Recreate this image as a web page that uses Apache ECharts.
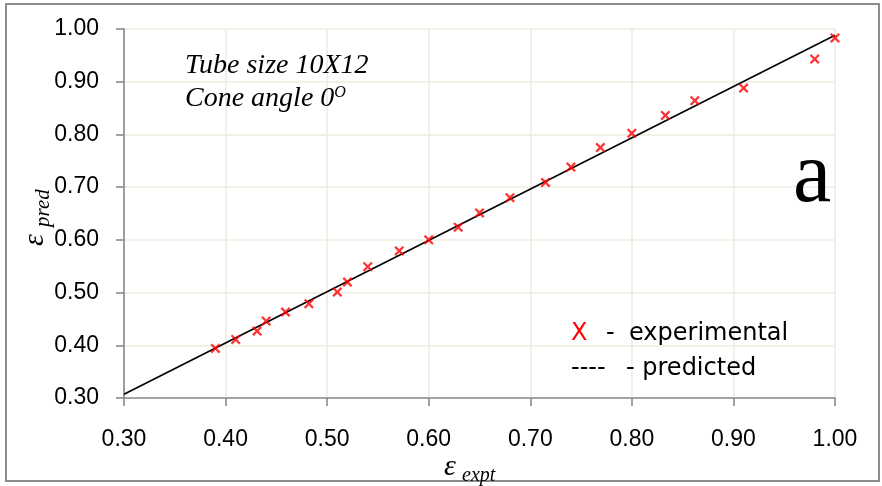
<!DOCTYPE html>
<html>
<head>
<meta charset="utf-8">
<script src="https://cdn.jsdelivr.net/npm/echarts@6/dist/echarts.min.js"></script>
<style>
  html, body { margin: 0; padding: 0; background: #fff; }
  #chart { width: 882px; height: 486px; }
</style>
</head>
<body>
<div id="chart"></div>
<script>
// Experimental voidage vs predicted voidage
const exptValues = [0.390, 0.410, 0.431, 0.440, 0.459, 0.482, 0.510, 0.520, 0.540, 0.571, 0.600, 0.629,
                    0.650, 0.680, 0.715, 0.740, 0.769, 0.800, 0.833, 0.862, 0.910, 0.980, 1.000];
const predValues = [0.394, 0.411, 0.427, 0.446, 0.463, 0.479, 0.501, 0.520, 0.549, 0.579, 0.600, 0.624,
                    0.651, 0.680, 0.709, 0.738, 0.775, 0.802, 0.836, 0.864, 0.888, 0.943, 0.983];
// Prediction line end points
const lineX = [0.30, 1.00];
const lineY = [0.307, 0.988];
// Axis ticks
const axisMin = 0.3, axisMax = 1.0, axisStep = 0.1;

const crossPath = 'path://M0,1.6L1.6,0L5,3.4L8.4,0L10,1.6L6.6,5L10,8.4L8.4,10L5,6.6L1.6,10L0,8.4L3.4,5Z';

const chart = echarts.init(document.getElementById('chart'), null, { renderer: 'canvas' });

const axisCommon = {
  type: 'value',
  min: axisMin,
  max: axisMax,
  interval: axisStep,
  axisLine: { show: true, lineStyle: { color: '#8a8a8a', width: 1.6 } },
  axisTick: { show: true, length: 8, lineStyle: { color: '#8a8a8a', width: 1.6 } },
  splitLine: { show: true, lineStyle: { color: '#eeece1', width: 1.6 } },
  axisLabel: {
    color: '#000',
    fontFamily: 'Liberation Sans',
    fontSize: 23,
    formatter: v => v.toFixed(2)
  }
};

const serif = 'Liberation Serif';

chart.setOption({
  backgroundColor: '#fff',
  animation: false,
  grid: { left: 124, right: 47, top: 29, bottom: 88, containLabel: false },
  xAxis: Object.assign({}, axisCommon, {
    axisLabel: Object.assign({}, axisCommon.axisLabel, { margin: 30 })
  }),
  yAxis: Object.assign({}, axisCommon, {
    axisLabel: Object.assign({}, axisCommon.axisLabel, { margin: 25 })
  }),
  series: [
    {
      name: 'predicted',
      type: 'line',
      data: lineX.map((x, i) => [x, lineY[i]]),
      showSymbol: false,
      lineStyle: { color: '#000', width: 1.6 },
      z: 2
    },
    {
      name: 'experimental',
      type: 'scatter',
      data: exptValues.map((x, i) => [x, predValues[i]]),
      symbol: crossPath,
      symbolSize: 10,
      itemStyle: { color: '#ff0000' },
      z: 3
    }
  ],
  graphic: [
    // outer frame
    {
      type: 'rect', silent: true, z: 0,
      shape: { x: 6, y: 4, width: 873, height: 477 },
      style: { fill: 'none', stroke: '#8c8c8c', lineWidth: 2 }
    },
    // annotation
    {
      type: 'text', left: 185, top: 52, z: 10,
      style: { text: 'Tube size 10X12', font: 'italic 28px "Liberation Serif"', fill: '#000' }
    },
    {
      type: 'text', left: 185, top: 85, z: 10,
      style: {
        text: '{n|Cone angle 0}{s|O}',
        rich: {
          n: { fontFamily: serif, fontStyle: 'italic', fontSize: 28, fill: '#000' },
          s: { fontFamily: serif, fontStyle: 'italic', fontSize: 16, fill: '#000', verticalAlign: 'top' }
        }
      }
    },
    // panel letter
    {
      type: 'text', left: 793, top: 135, z: 10,
      style: { text: 'a', font: '86px "Liberation Serif"', fill: '#000' }
    },
    // legend notes
    {
      type: 'text', left: 571, top: 322, z: 10,
      style: { text: 'X', font: '24px "DejaVu Sans"', fill: '#ff0000' }
    },
    {
      type: 'text', left: 606, top: 322, z: 10,
      style: { text: '-', font: '24px "DejaVu Sans"', fill: '#000' }
    },
    {
      type: 'text', left: 629, top: 322, z: 10,
      style: { text: 'experimental', font: '24px "DejaVu Sans"', fill: '#000' }
    },
    {
      type: 'text', left: 571, top: 357, z: 10,
      style: { text: '----', font: '24px "DejaVu Sans"', fill: '#000' }
    },
    {
      type: 'text', left: 626, top: 357, z: 10,
      style: { text: '- predicted', font: '24px "DejaVu Sans"', fill: '#000' }
    },
    // x axis title
    {
      type: 'text', x: 450, y: 467, z: 10,
      style: { text: 'ε', font: 'italic 30px "Liberation Serif"', fill: '#000', align: 'center', verticalAlign: 'middle' }
    },
    {
      type: 'text', x: 462, y: 476, z: 10,
      style: { text: 'expt', font: 'italic 20px "Liberation Serif"', fill: '#000', align: 'left', verticalAlign: 'middle' }
    },
    // y axis title
    {
      type: 'group', x: 35, y: 240, rotation: Math.PI / 2, z: 10,
      children: [
        {
          type: 'text', x: 0, y: 0,
          style: { text: 'ε', font: 'italic 30px "Liberation Serif"', fill: '#000', align: 'center', verticalAlign: 'middle' }
        },
        {
          type: 'text', x: 13, y: 8,
          style: { text: 'pred', font: 'italic 21px "Liberation Serif"', fill: '#000', align: 'left', verticalAlign: 'middle' }
        }
      ]
    }
  ]
});
</script>
</body>
</html>
